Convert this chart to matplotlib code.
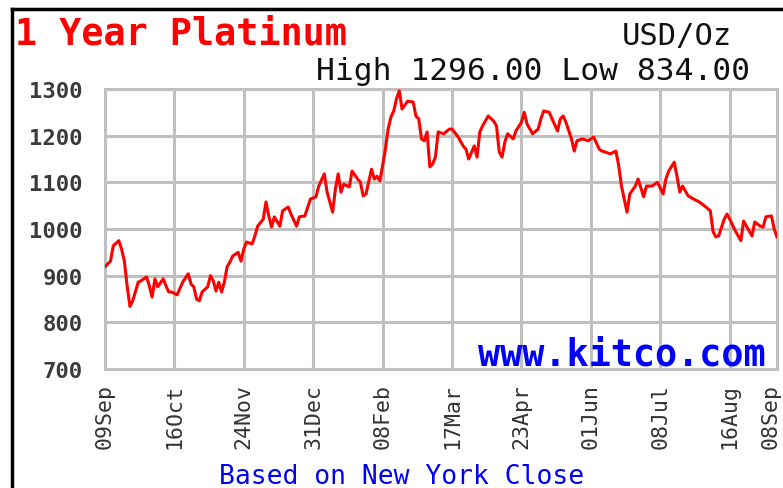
import matplotlib
matplotlib.use("Agg")
import matplotlib.pyplot as plt
import matplotlib.transforms as mtransforms
from matplotlib.lines import Line2D

# trading-day index (0 = 09Sep) and NY close, USD/oz
day_idx = [0, 2, 3, 5, 6, 7, 8, 9, 10, 12, 13, 15, 16, 17, 18, 19, 21, 22, 23, 24,
           26, 28, 30, 31, 32, 33, 34, 35, 37, 38, 39, 40, 41, 42, 43, 44, 45, 46, 48, 49,
           50, 51, 53, 54, 55, 57, 58, 59, 60, 61, 63, 64, 66, 67, 69, 70, 72, 74, 76, 77,
           79, 80, 81, 82, 83, 84, 85, 86, 88, 89, 91, 92, 93, 94, 96, 97, 98, 99, 100, 101,
           102, 103, 104, 105, 106, 107, 109, 111, 112, 113, 114, 115, 116, 117, 118, 119, 120, 122, 124, 125,
           127, 129, 130, 131, 133, 134, 135, 136, 138, 140, 141, 142, 143, 144, 145, 147, 148, 150, 151, 152,
           154, 156, 157, 158, 160, 161, 163, 164, 165, 166, 168, 169, 170, 172, 174, 176, 178, 179, 182, 184,
           185, 186, 187, 188, 189, 191, 192, 194, 195, 197, 199, 201, 202, 203, 205, 206, 207, 208, 210, 212,
           214, 216, 218, 219, 220, 221, 223, 224, 225, 227, 229, 230, 231, 233, 234, 236, 237, 238, 240, 241,
           242]
price = [919, 931, 964, 975, 957, 931, 878, 834, 846, 886, 889, 897, 878, 854, 893, 876, 893, 878, 865, 865,
         859, 886, 904, 882, 876, 850, 846, 865, 876, 900, 889, 867, 886, 865, 886, 919, 929, 942, 950, 931,
         957, 972, 968, 985, 1006, 1021, 1058, 1028, 1004, 1026, 1006, 1039, 1047, 1032, 1006, 1026, 1028, 1064, 1069, 1092,
         1118, 1079, 1058, 1036, 1086, 1118, 1079, 1096, 1090, 1124, 1107, 1100, 1071, 1075, 1128, 1107, 1113, 1103, 1136, 1171,
         1215, 1240, 1253, 1279, 1296, 1257, 1274, 1272, 1242, 1236, 1193, 1189, 1208, 1133, 1139, 1154, 1208, 1204, 1214, 1214,
         1199, 1178, 1171, 1150, 1178, 1154, 1208, 1221, 1242, 1231, 1221, 1165, 1154, 1186, 1204, 1193, 1210, 1229, 1250, 1225,
         1204, 1214, 1236, 1253, 1250, 1236, 1210, 1236, 1242, 1229, 1193, 1167, 1189, 1193, 1189, 1197, 1171, 1167, 1161, 1167,
         1136, 1092, 1064, 1036, 1075, 1092, 1107, 1069, 1092, 1092, 1100, 1075, 1107, 1124, 1143, 1113, 1079, 1092, 1071, 1064,
         1058, 1049, 1039, 994, 983, 985, 1021, 1032, 1021, 996, 975, 1017, 1006, 985, 1015, 1006, 1004, 1026, 1028, 1000,
         983]

tick_idx = [0, 25, 50, 75, 100, 125, 150, 175, 200, 225, 242]
tick_labels = ["09Sep", "16Oct", "24Nov", "31Dec", "08Feb", "17Mar",
               "23Apr", "01Jun", "08Jul", "16Aug", "08Sep"]
y_ticks = [700, 800, 900, 1000, 1100, 1200, 1300]

MONO = "DejaVu Sans Mono"
GRID = "#c0c0c0"

fig = plt.figure(figsize=(7.83, 4.89), dpi=100)
ax = fig.add_axes([0.134, 0.2434, 0.8583, 0.5726])

ax.plot(day_idx, price, color="#ff0000", lw=2.2, zorder=3)

ax.set_xlim(0, 242)
ax.set_ylim(700, 1300)
ax.set_xticks(tick_idx)
ax.set_xticklabels(tick_labels, rotation=90, family=MONO, fontsize=15.5, color="#333333")
ax.set_yticks(y_ticks)
ax.set_yticklabels([str(v) for v in y_ticks], family=MONO, fontsize=16,
                   fontweight="bold", color="#3a3a3a")
ax.tick_params(length=0, pad=10)
ax.tick_params(axis="y", pad=16)
ax.grid(True, color=GRID, lw=2.2)
for s in ax.spines.values():
    s.set_color(GRID)
    s.set_linewidth(2.2)

# last date label sits just inside the right edge
last = ax.get_xticklabels()[-1]
last.set_transform(last.get_transform() + mtransforms.ScaledTranslation(-6 / 100, 0, fig.dpi_scale_trans))

fig.text(0.019, 0.930, "1 Year Platinum", color="#ff0000", family=MONO,
         fontsize=26.5, fontweight="bold", va="center", ha="left")
fig.text(0.935, 0.925, "USD/Oz", color="#111111", family=MONO, fontsize=22,
         va="center", ha="right")
fig.text(0.958, 0.853, "High 1296.00 Low 834.00", color="#111111", family=MONO,
         fontsize=22.5, va="center", ha="right")
fig.text(0.978, 0.274, "www.kitco.com", color="#0000ff", family=MONO,
         fontsize=26.5, fontweight="bold", va="center", ha="right")
fig.text(0.513, 0.024, "Based on New York Close", color="#0000ff", family=MONO,
         fontsize=19, va="center", ha="center")

# black frame at top and left edges
fig.add_artist(Line2D([0.015, 1.0], [0.979, 0.979], color="black", lw=2.5, transform=fig.transFigure))
fig.add_artist(Line2D([0.015, 0.015], [0.0, 0.979], color="black", lw=2.5, transform=fig.transFigure))

fig.savefig("out.png", dpi=100)
